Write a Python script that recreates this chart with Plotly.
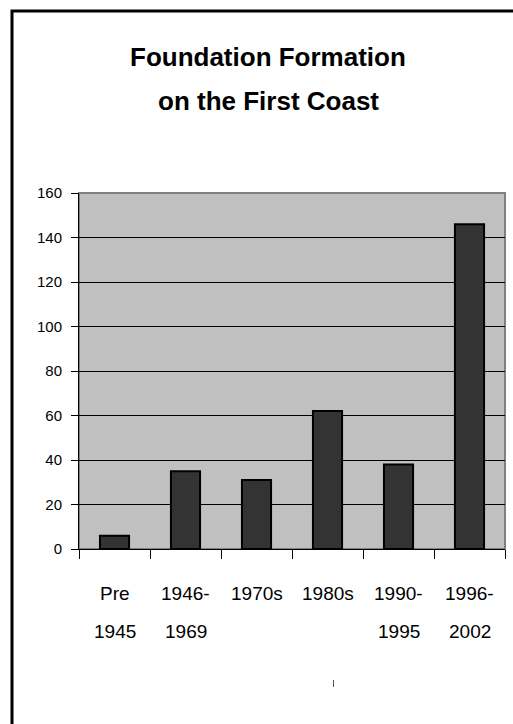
import plotly.graph_objects as go

categories = ["Pre 1945", "1946-1969", "1970s", "1980s", "1990-1995", "1996-2002"]
label_top = ["Pre", "1946-", "1970s", "1980s", "1990-", "1996-"]
label_bottom = ["1945", "1969", "", "", "1995", "2002"]
counts = [6, 35, 31, 62, 38, 146]
y_ticks = [0, 20, 40, 60, 80, 100, 120, 140, 160]

W, H = 513, 724
L, R, T, B = 79, 8, 193, 175
pw, ph = W - L - R, H - T - B

def px_x(x):
    return (x - L) / pw

def px_y(y):
    return (H - B - y) / ph

FONT = "Liberation Sans, Arial, sans-serif"

fig = go.Figure()
fig.add_trace(go.Bar(
    x=categories, y=counts, width=0.41,
    marker=dict(color="#333333", line=dict(color="#000000", width=2)),
    hoverinfo="x+y",
))

annotations = []
for c, t, b in zip(categories, label_top, label_bottom):
    annotations.append(dict(x=c, xref="x", y=px_y(593), yref="paper", text=t,
                            showarrow=False, yanchor="middle", xanchor="center",
                            font=dict(family=FONT, size=19, color="#000")))
    if b:
        annotations.append(dict(x=c, xref="x", y=px_y(631), yref="paper", text=b,
                                showarrow=False, yanchor="middle", xanchor="center",
                                font=dict(family=FONT, size=19, color="#000")))

annotations.append(dict(x=px_x(268), xref="paper", y=px_y(57), yref="paper",
                        text="<b>Foundation Formation</b>", showarrow=False,
                        xanchor="center", yanchor="middle",
                        font=dict(family=FONT, size=26, color="#000")))
annotations.append(dict(x=px_x(268), xref="paper", y=px_y(101), yref="paper",
                        text="<b>on the First Coast</b>", showarrow=False,
                        xanchor="center", yanchor="middle",
                        font=dict(family=FONT, size=26, color="#000")))

shapes = [
    # outer frame
    dict(type="rect", xref="paper", yref="paper",
         x0=px_x(12), x1=px_x(530), y0=px_y(740), y1=px_y(11),
         line=dict(color="#000", width=3), fillcolor="rgba(0,0,0,0)", layer="below"),
    # plot-area border (top/right gray)
    dict(type="rect", xref="paper", yref="paper", x0=0, x1=1, y0=0, y1=1,
         line=dict(color="#808080", width=2), fillcolor="rgba(0,0,0,0)", layer="below"),
    # small stray mark
    dict(type="line", xref="paper", yref="paper",
         x0=px_x(333.5), x1=px_x(333.5), y0=px_y(680), y1=px_y(687),
         line=dict(color="#555", width=1)),
]

fig.update_layout(
    width=W, height=H,
    margin=dict(l=L, r=R, t=T, b=B, pad=0),
    paper_bgcolor="white", plot_bgcolor="#C0C0C0",
    showlegend=False,
    annotations=annotations,
    shapes=shapes,
    xaxis=dict(
        type="category", showticklabels=False, tickson="boundaries",
        ticks="outside", ticklen=9, tickcolor="#000", tickwidth=1,
        showgrid=False, showline=True, linecolor="#000", linewidth=1,
        zeroline=False, range=[-0.5, 5.5],
    ),
    yaxis=dict(
        range=[0, 160], tickvals=y_ticks, ticks="outside", ticklen=7,
        tickcolor="#000", tickwidth=1, ticklabelstandoff=6,
        tickfont=dict(family=FONT, size=15, color="#000"),
        showgrid=True, gridcolor="#000", gridwidth=1,
        showline=True, linecolor="#000", linewidth=1, zeroline=False,
    ),
)

fig.write_html("out.html", config={"displayModeBar": False},
               post_script="document.body.style.margin='0px';document.body.style.overflow='hidden';")
